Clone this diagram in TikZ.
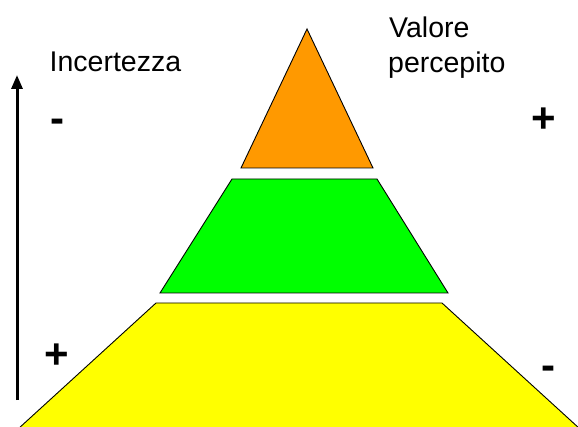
\documentclass[tikz,border=0pt]{standalone}
\usepackage{fontspec}
\setmainfont{Liberation Sans}
\usetikzlibrary{arrows.meta}
\begin{document}
\begin{tikzpicture}[x=1pt,y=-1pt,
  layer/.style={draw=black,line width=0.9pt,line join=miter},
  lbl/.style={inner sep=0pt,anchor=base west,font=\fontsize{28.5}{35}\selectfont},
  sign/.style={inner sep=0pt,font=\fontsize{42}{48}\selectfont\bfseries}]
\useasboundingbox (0,0) rectangle (578,427);
\clip (0,0) rectangle (578,427);
\fill[white] (0,0) rectangle (578,427);
% layers
\draw[layer,fill={rgb,255:red,255;green,153;blue,0}] (307,29) -- (373,168) -- (241,168) -- cycle;
\draw[layer,fill={rgb,255:red,0;green,255;blue,0}] (232,179) -- (377,179) -- (448,293) -- (160,293) -- cycle;
\draw[layer,fill={rgb,255:red,255;green,255;blue,0}] (156,303) -- (442,303) -- (580,429) -- (18,429) -- cycle;
% arrow
\coordinate (abot) at (17,400);
\coordinate (atop) at (17,75);
\draw[line width=3pt,-{Triangle[width=11pt,length=14pt]}] (abot) -- (atop);
% labels
\node[lbl] (inc) at (49.5,72) {Incertezza};
\node[lbl] (val) at (389,38) {Valore};
\node[lbl] (per) at (388,73) {percepito};
\node[sign] (m1) at (57,125.5) {-};
\node[sign] (p1) at (544,120) {+};
\node[sign] (p2) at (56.5,356) {+};
\node[sign] (m2) at (548.5,372.5) {-};
\end{tikzpicture}
\end{document}
